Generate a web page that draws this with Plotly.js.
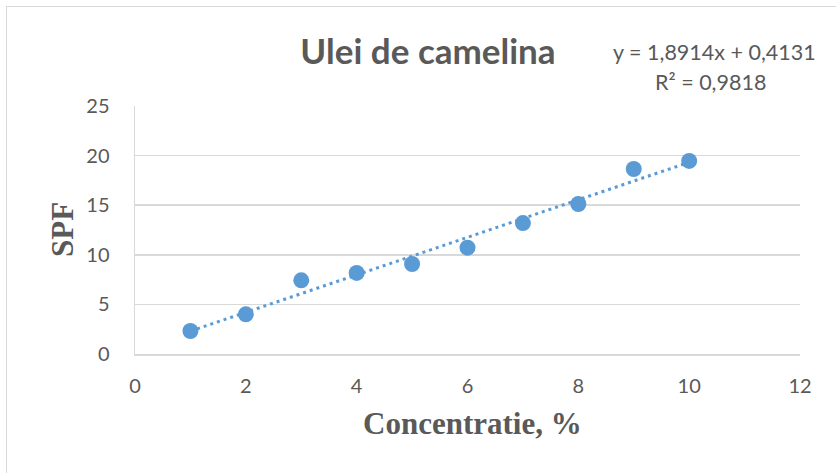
<!DOCTYPE html>
<html>
<head>
<meta charset="utf-8">
<script src="https://cdn.plot.ly/plotly-3.0.1.min.js"></script>
<style>
  html, body { margin: 0; padding: 0; background: #ffffff; overflow: hidden; }
  #chart { width: 836px; height: 473px; position: absolute; left: 0; top: 0; }
  #frame { position: absolute; left: 6px; top: 6px; width: 900px; height: 600px;
           border-left: 1.5px solid #D9D9D9; border-top: 1.5px solid #D9D9D9;
           pointer-events: none; }
</style>
</head>
<body>
<div id="chart"></div>
<div id="frame"></div>
<script>
// Data
const concentration = [1, 2, 3, 4, 5, 6, 7, 8, 9, 10];
const spf = [2.32, 4.0, 7.43, 8.17, 9.07, 10.72, 13.2, 15.12, 18.65, 19.46];
// Trendline coefficients as printed on the chart
const trendSlope = 1.8914;
const trendIntercept = 0.4131;
const equationText = "y = 1,8914x + 0,4131";
const r2Text = "R² = 0,9818";
const xTicks = [0, 2, 4, 6, 8, 10, 12];
const yTicks = [0, 5, 10, 15, 20, 25];

const xMin = Math.min(...concentration), xMax = Math.max(...concentration);
const trendX = [xMin, xMax];
const trendY = trendX.map(x => trendSlope * x + trendIntercept);

const textColor = "#595959";
const blue = "#5B9BD5";

const traces = [
  {
    x: trendX, y: trendY, type: "scatter", mode: "lines",
    line: { color: blue, width: 3, dash: "3px,4px" },
    hoverinfo: "skip", showlegend: false
  },
  {
    x: concentration, y: spf, type: "scatter", mode: "markers",
    marker: { color: blue, size: 16 },
    showlegend: false
  }
];

const layout = {
  width: 836, height: 473,
  margin: { l: 135, r: 36, t: 106, b: 119 },
  paper_bgcolor: "rgba(0,0,0,0)", plot_bgcolor: "#ffffff",
  font: { family: "Lato, 'Open Sans', sans-serif", color: textColor },
  title: {
    text: "<b>Ulei de camelina</b>",
    font: { family: "Lato, sans-serif", size: 35, color: textColor },
    xref: "container", yref: "container",
    x: 428 / 836, y: 1 - 52 / 473, xanchor: "center", yanchor: "middle"
  },
  xaxis: {
    range: [0, 12], tickvals: xTicks, ticktext: xTicks.map(String),
    showgrid: false, zeroline: false,
    showline: true, linecolor: "#D9D9D9", linewidth: 1.5,
    ticks: "", ticklabelstandoff: 13,
    tickfont: { family: "Lato, sans-serif", size: 20, color: textColor },
    fixedrange: true
  },
  yaxis: {
    range: [0, 25], tickvals: yTicks, ticktext: yTicks.map(String),
    showgrid: true, gridcolor: "#D9D9D9", gridwidth: 1.5, zeroline: false,
    showline: true, linecolor: "#D9D9D9", linewidth: 1.5,
    ticks: "", ticklabelstandoff: 20,
    tickfont: { family: "Lato, sans-serif", size: 20, color: textColor },
    fixedrange: true
  },
  annotations: [
    {
      text: equationText, xref: "paper", yref: "paper",
      x: (714 - 135) / 665, y: (354 - 52) / 248,
      xanchor: "center", yanchor: "middle", showarrow: false,
      font: { family: "Lato, sans-serif", size: 21.5, color: textColor }
    },
    {
      text: r2Text, xref: "paper", yref: "paper",
      x: (710 - 135) / 665, y: (354 - 82) / 248,
      xanchor: "center", yanchor: "middle", showarrow: false,
      font: { family: "Lato, sans-serif", size: 21.5, color: textColor }
    },
    {
      text: "<b>Concentratie, %</b>", xref: "paper", yref: "paper",
      x: (472 - 135) / 665, y: (354 - 423) / 248,
      xanchor: "center", yanchor: "middle", showarrow: false,
      font: { family: "'Liberation Serif', 'Times New Roman', serif", size: 31, color: textColor }
    },
    {
      text: "<b>SPF</b>", xref: "paper", yref: "paper",
      x: (62 - 135) / 665, y: (354 - 230) / 248, textangle: -90,
      xanchor: "center", yanchor: "middle", showarrow: false,
      font: { family: "'Liberation Serif', 'Times New Roman', serif", size: 31, color: textColor }
    }
  ]
};

Plotly.newPlot("chart", traces, layout, { displayModeBar: false, staticPlot: true });
</script>
</body>
</html>
